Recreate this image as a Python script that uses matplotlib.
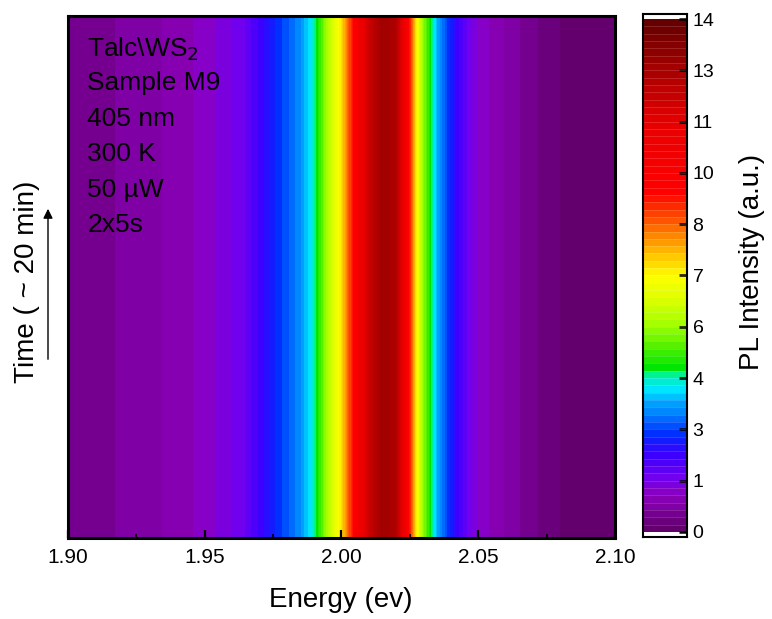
import numpy as np
import matplotlib
matplotlib.use("Agg")
import matplotlib.pyplot as plt
from matplotlib.colors import LinearSegmentedColormap, BoundaryNorm
from matplotlib.patches import FancyArrowPatch

plt.rcParams['font.family'] = ['Liberation Sans', 'DejaVu Sans']

# PL spectrum (energy in eV, intensity in a.u.), steady over the ~20 min series
energy = [1.900, 1.910, 1.920, 1.930, 1.940, 1.950, 1.955, 1.960, 1.965, 1.970,
          1.975, 1.980, 1.985, 1.990, 1.995, 2.000, 2.0025, 2.005, 2.010, 2.015,
          2.020, 2.0225, 2.025, 2.0275, 2.030, 2.035, 2.040, 2.045, 2.050, 2.060,
          2.070, 2.080, 2.090, 2.100]
spectrum_start = [0.50, 0.55, 0.62, 0.72, 0.90, 1.08, 1.22, 1.40, 1.62, 2.05,
                  2.55, 2.95, 3.35, 4.20, 5.80, 7.30, 8.40, 9.60, 11.80, 12.80,
                  12.40, 11.00, 9.00, 7.00, 5.50, 3.60, 2.50, 1.70, 1.15, 0.78,
                  0.45, 0.20, 0.10, 0.05]
spectrum_end = list(spectrum_start)
time_min = [0, 20]

cbar_ticks = [0, 1.4, 2.8, 4.2, 5.6, 7.0, 8.4, 9.8, 11.2, 12.6, 14.0]
info_lines = ["Talc\\WS$_2$", "Sample M9", "405 nm", "300 K", "50 \u00b5W", "2x5s"]

# Origin-style rainbow palette
stops = [
    (0.0, (100, 0, 110)), (0.9, (140, 0, 190)), (1.4, (110, 0, 240)),
    (2.0, (60, 0, 255)), (2.6, (0, 40, 255)), (2.8, (0, 80, 255)),
    (3.35, (0, 150, 255)), (3.85, (0, 230, 255)), (4.2, (0, 245, 160)),
    (4.45, (0, 230, 0)), (5.0, (80, 240, 0)), (5.6, (160, 255, 0)),
    (6.3, (220, 255, 0)), (6.95, (255, 255, 0)), (7.5, (255, 200, 0)),
    (8.2, (255, 120, 0)), (8.8, (255, 50, 0)), (9.3, (255, 0, 0)),
    (11.2, (230, 0, 0)), (12.6, (170, 0, 0)), (14.0, (100, 0, 0)),
]
cmap = LinearSegmentedColormap.from_list(
    "origin_rainbow", [(v / 14.0, tuple(c / 255 for c in rgb)) for v, rgb in stops])
levels = np.linspace(0, 14, 71)
norm = BoundaryNorm(levels, cmap.N)

W, H = 772, 619
fig = plt.figure(figsize=(W / 100, H / 100), dpi=100)
ax = fig.add_axes([0.0881, 0.1309, 0.7085, 0.8433])

E = np.array(energy)
T = np.array(time_min)
Z = np.vstack([spectrum_start, spectrum_end])
ax.contourf(E, T, Z, levels=levels, cmap=cmap, norm=norm, antialiased=False)

ax.set_xlim(1.90, 2.10)
ax.set_ylim(T[0], T[-1])
ax.set_xticks([1.90, 1.95, 2.00, 2.05, 2.10])
ax.set_xticklabels(["1.90", "1.95", "2.00", "2.05", "2.10"])
ax.set_xticks(np.arange(1.90, 2.1001, 0.025), minor=True)
ax.set_yticks([])
ax.tick_params(axis='x', which='major', direction='in', length=6, width=1.6,
               labelsize=15, pad=7, top=False)
ax.tick_params(axis='x', which='minor', direction='in', length=3, width=1.2, top=False)
for sp in ax.spines.values():
    sp.set_linewidth(2.2)

fig.text(341 / W, 1 - 600 / H, "Energy (ev)", fontsize=20, ha='center', va='center')

for i, line in enumerate(info_lines):
    ax.text(0.035, 0.962 - i * 0.068, line, transform=ax.transAxes,
            fontsize=19, va='top', ha='left', color='black')

# time axis label with an arrow
fig.text(27 / W, 1 - 282 / H, "Time ( ~ 20 min)", rotation=90, fontsize=20,
         ha='center', va='center')
fig.patches.append(FancyArrowPatch(
    (48 / W, 1 - 362 / H), (48 / W, 1 - 206 / H), transform=fig.transFigure,
    arrowstyle='-|>', mutation_scale=14, lw=1.0, color='black'))

# colour scale
cax = fig.add_axes([0.8329, 0.1325, 0.057, 0.845])
mids = 0.5 * (levels[:-1] + levels[1:])
cax.pcolormesh([0, 1], levels, mids[:, None], cmap=cmap, norm=norm)
cax.hlines(levels[1:-1], 0, 1, colors='white', alpha=0.2, lw=0.5)
cax.set_xlim(0, 1)
cax.set_ylim(-0.14, 14.14)
cax.set_xticks([])
cax.yaxis.tick_right()
cax.set_yticks(cbar_ticks)
cax.set_yticklabels([f"{t:.0f}" for t in cbar_ticks])
cax.tick_params(axis='y', direction='in', length=6, width=1.8, labelsize=14, pad=4)
for sp in cax.spines.values():
    sp.set_linewidth(1.5)
fig.text(752 / W, 1 - 262 / H, "PL Intensity (a.u.)", rotation=90, fontsize=20,
         ha='center', va='center')

fig.savefig("out.png", dpi=100)
